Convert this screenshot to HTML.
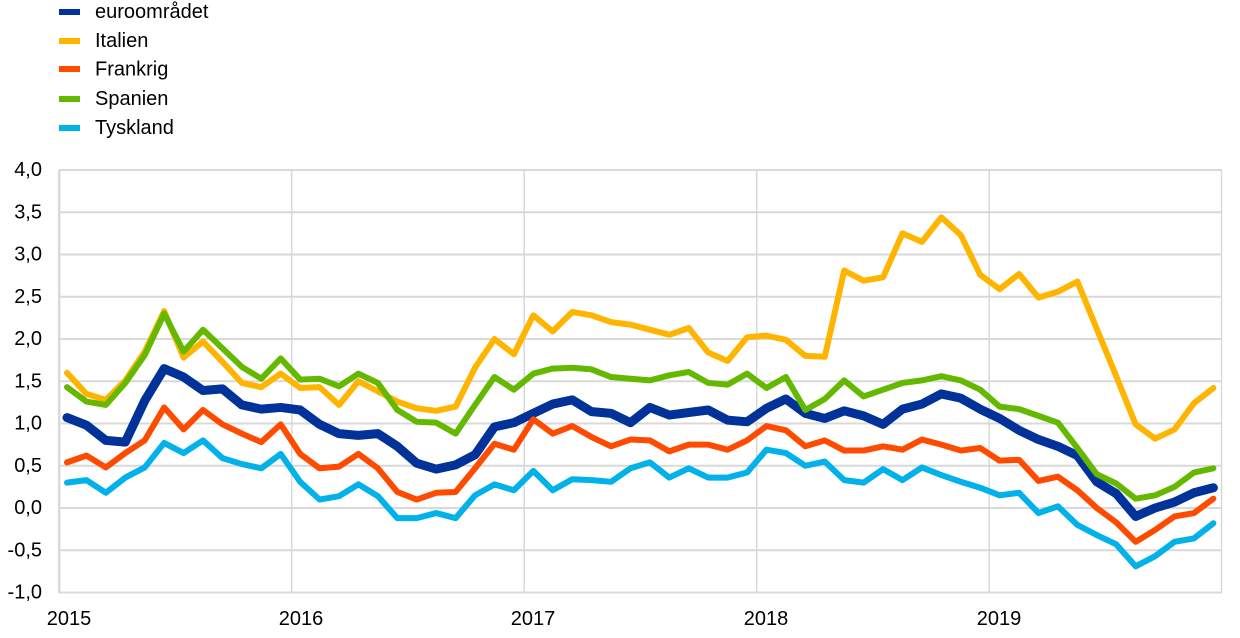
<!DOCTYPE html>
<html>
<head>
<meta charset="utf-8">
<style>
html,body{margin:0;padding:0;background:#fff;}
svg{display:block;}
text{font-family:"Liberation Sans",Arial,sans-serif;font-size:20px;fill:#000;}
</style>
</head>
<body>
<svg width="1240" height="638" viewBox="0 0 1240 638" xmlns="http://www.w3.org/2000/svg">
  <!-- legend -->
  <rect x="59" y="9" width="21" height="6" fill="#003299"/>
  <text x="95" y="12" dominant-baseline="central">euroområdet</text>
  <rect x="59" y="38" width="21" height="6" fill="#FFB400"/>
  <text x="95" y="41" dominant-baseline="central">Italien</text>
  <rect x="59" y="66" width="21" height="6" fill="#FF4B00"/>
  <text x="95" y="69.5" dominant-baseline="central">Frankrig</text>
  <rect x="59" y="96" width="21" height="6" fill="#65B800"/>
  <text x="95" y="99" dominant-baseline="central">Spanien</text>
  <rect x="59" y="125" width="21" height="6" fill="#00B1EA"/>
  <text x="95" y="128" dominant-baseline="central">Tyskland</text>

  <!-- grid -->
  <g stroke="#d9d9d9" stroke-width="2" fill="none">
    <line x1="59" y1="170" x2="1222" y2="170"/>
    <line x1="59" y1="212.3" x2="1222" y2="212.3"/>
    <line x1="59" y1="254.5" x2="1222" y2="254.5"/>
    <line x1="59" y1="296.8" x2="1222" y2="296.8"/>
    <line x1="59" y1="339" x2="1222" y2="339"/>
    <line x1="59" y1="381.3" x2="1222" y2="381.3"/>
    <line x1="59" y1="423.5" x2="1222" y2="423.5"/>
    <line x1="59" y1="465.8" x2="1222" y2="465.8"/>
    <line x1="59" y1="508" x2="1222" y2="508"/>
    <line x1="59" y1="550.3" x2="1222" y2="550.3"/>
    <line x1="59" y1="592.5" x2="1222" y2="592.5"/>
  </g>
  <g stroke="#d9d9d9" stroke-width="1.5" fill="none">
    <line x1="59.2" y1="170" x2="59.2" y2="593"/>
    <line x1="291.7" y1="170" x2="291.7" y2="593"/>
    <line x1="524.2" y1="170" x2="524.2" y2="593"/>
    <line x1="756.7" y1="170" x2="756.7" y2="593"/>
    <line x1="989.2" y1="170" x2="989.2" y2="593"/>
    <line x1="1221.5" y1="170" x2="1221.5" y2="593"/>
  </g>
  <line x1="59.2" y1="170" x2="59.2" y2="593" stroke="#d9d9d9" stroke-width="2.5"/>

  <!-- y labels -->
  <g text-anchor="end" dominant-baseline="central">
    <text x="42" y="170">4,0</text>
    <text x="42" y="212.3">3,5</text>
    <text x="42" y="254.5">3,0</text>
    <text x="42" y="296.8">2,5</text>
    <text x="42" y="339">2,0</text>
    <text x="42" y="381.3">1,5</text>
    <text x="42" y="423.5">1,0</text>
    <text x="42" y="465.8">0,5</text>
    <text x="42" y="508">0,0</text>
    <text x="42" y="550.3">-0,5</text>
    <text x="42" y="592.5">-1,0</text>
  </g>

  <!-- x labels -->
  <g text-anchor="middle">
    <text x="69" y="625">2015</text>
    <text x="301" y="625">2016</text>
    <text x="533" y="625">2017</text>
    <text x="766" y="625">2018</text>
    <text x="999" y="625">2019</text>
  </g>

  <!-- series -->
  <g transform="translate(67,508) scale(19.43,-84.5)" fill="none" stroke-linejoin="round" stroke-linecap="round">
    <polyline vector-effect="non-scaling-stroke" stroke="#003299" stroke-width="9" points="0,1.07 1,0.98 2,0.80 3,0.78 4,1.27 5,1.65 6,1.55 7,1.39 8,1.41 9,1.22 10,1.17 11,1.19 12,1.16 13,0.99 14,0.88 15,0.86 16,0.88 17,0.73 18,0.53 19,0.46 20,0.51 21,0.63 22,0.96 23,1.01 24,1.12 25,1.23 26,1.28 27,1.14 28,1.12 29,1.01 30,1.19 31,1.10 32,1.13 33,1.16 34,1.04 35,1.02 36,1.18 37,1.29 38,1.12 39,1.06 40,1.15 41,1.09 42,0.99 43,1.17 44,1.23 45,1.35 46,1.30 47,1.17 48,1.06 49,0.92 50,0.81 51,0.73 52,0.62 53,0.31 54,0.17 55,-0.10 56,0.00 57,0.07 58,0.18 59,0.24"/>
    <polyline vector-effect="non-scaling-stroke" stroke="#FFB400" stroke-width="6" points="0,1.60 1,1.35 2,1.28 3,1.51 4,1.85 5,2.33 6,1.78 7,1.97 8,1.73 9,1.48 10,1.43 11,1.59 12,1.42 13,1.43 14,1.22 15,1.50 16,1.38 17,1.26 18,1.18 19,1.15 20,1.20 21,1.66 22,2.00 23,1.82 24,2.28 25,2.09 26,2.32 27,2.28 28,2.20 29,2.17 30,2.11 31,2.05 32,2.13 33,1.84 34,1.74 35,2.02 36,2.04 37,1.99 38,1.80 39,1.79 40,2.81 41,2.69 42,2.73 43,3.25 44,3.15 45,3.44 46,3.23 47,2.76 48,2.59 49,2.77 50,2.49 51,2.56 52,2.68 53,2.12 54,1.56 55,0.99 56,0.82 57,0.93 58,1.24 59,1.42"/>
    <polyline vector-effect="non-scaling-stroke" stroke="#FF4B00" stroke-width="6" points="0,0.54 1,0.62 2,0.48 3,0.65 4,0.80 5,1.19 6,0.93 7,1.16 8,0.99 9,0.88 10,0.78 11,0.99 12,0.64 13,0.47 14,0.49 15,0.64 16,0.47 17,0.19 18,0.10 19,0.18 20,0.19 21,0.47 22,0.76 23,0.69 24,1.05 25,0.88 26,0.97 27,0.84 28,0.73 29,0.81 30,0.80 31,0.67 32,0.75 33,0.75 34,0.69 35,0.80 36,0.97 37,0.92 38,0.73 39,0.80 40,0.68 41,0.68 42,0.73 43,0.69 44,0.81 45,0.75 46,0.68 47,0.71 48,0.56 49,0.57 50,0.32 51,0.37 52,0.21 53,0.00 54,-0.17 55,-0.40 56,-0.26 57,-0.10 58,-0.06 59,0.11"/>
    <polyline vector-effect="non-scaling-stroke" stroke="#65B800" stroke-width="6" points="0,1.43 1,1.26 2,1.22 3,1.48 4,1.81 5,2.30 6,1.85 7,2.11 8,1.89 9,1.67 10,1.53 11,1.77 12,1.52 13,1.53 14,1.44 15,1.59 16,1.48 17,1.16 18,1.02 19,1.01 20,0.88 21,1.22 22,1.55 23,1.40 24,1.59 25,1.65 26,1.66 27,1.64 28,1.55 29,1.53 30,1.51 31,1.57 32,1.61 33,1.48 34,1.46 35,1.59 36,1.42 37,1.55 38,1.16 39,1.29 40,1.51 41,1.32 42,1.40 43,1.48 44,1.51 45,1.56 46,1.51 47,1.40 48,1.20 49,1.17 50,1.09 51,1.01 52,0.71 53,0.40 54,0.29 55,0.11 56,0.15 57,0.25 58,0.42 59,0.47"/>
    <polyline vector-effect="non-scaling-stroke" stroke="#00B1EA" stroke-width="6" points="0,0.30 1,0.33 2,0.18 3,0.36 4,0.48 5,0.77 6,0.65 7,0.80 8,0.59 9,0.52 10,0.47 11,0.64 12,0.31 13,0.10 14,0.14 15,0.28 16,0.14 17,-0.12 18,-0.12 19,-0.06 20,-0.12 21,0.15 22,0.28 23,0.21 24,0.44 25,0.21 26,0.34 27,0.33 28,0.31 29,0.47 30,0.54 31,0.36 32,0.47 33,0.36 34,0.36 35,0.42 36,0.69 37,0.65 38,0.50 39,0.55 40,0.33 41,0.30 42,0.46 43,0.33 44,0.48 45,0.39 46,0.31 47,0.24 48,0.15 49,0.18 50,-0.06 51,0.02 52,-0.20 53,-0.32 54,-0.43 55,-0.69 56,-0.57 57,-0.40 58,-0.36 59,-0.18"/>
  </g>
</svg>
</body>
</html>
